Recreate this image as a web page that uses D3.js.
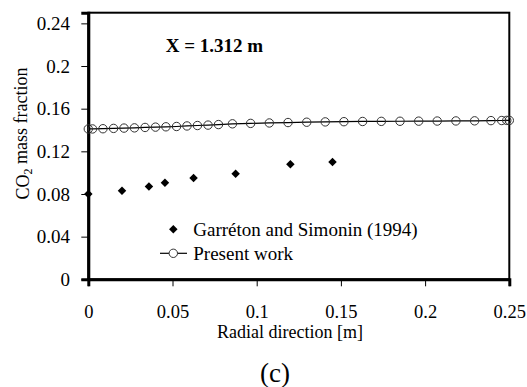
<!DOCTYPE html>
<html>
<head>
<meta charset="utf-8">
<script src="https://cdn.jsdelivr.net/npm/d3@7"></script>
<style>
  html, body { margin: 0; padding: 0; background: #fff; }
  svg { display: block; }
  svg text { font-family: "Liberation Serif", "Times New Roman", "DejaVu Serif", serif; fill: #000; }
</style>
</head>
<body>
<svg id="chart" width="527" height="387"></svg>
<script>
// ---- data ----
const expR = [0, 0.020, 0.036, 0.0455, 0.0625, 0.0875, 0.120, 0.145];
const expY = [0.080, 0.083, 0.087, 0.0905, 0.095, 0.099, 0.108, 0.110];

const simR = [0, 0.0025, 0.0087, 0.015, 0.0212, 0.0274, 0.0337, 0.0399, 0.0461, 0.0524,
              0.0586, 0.0648, 0.0711, 0.0773, 0.0856, 0.0964, 0.1075, 0.1186, 0.1297, 0.1407,
              0.1518, 0.1629, 0.174, 0.1851, 0.1962, 0.2072, 0.2183, 0.2294, 0.2391, 0.2455,
              0.2485, 0.25];
const simY = [0.141, 0.141, 0.1412, 0.1415, 0.1418, 0.142, 0.1424, 0.1427, 0.143, 0.1433,
              0.1438, 0.1442, 0.1446, 0.1451, 0.1458, 0.1462, 0.1466, 0.147, 0.1473, 0.1476,
              0.1478, 0.148, 0.1481, 0.1482, 0.1483, 0.1484, 0.1485, 0.1486, 0.1488, 0.1489,
              0.149, 0.149];

const xTicks = [0, 0.05, 0.1, 0.15, 0.2, 0.25];
const xTickLabels = ["0", "0.05", "0.1", "0.15", "0.2", "0.25"];
const yTicks = [0, 0.04, 0.08, 0.12, 0.16, 0.2, 0.24];
const yTickLabels = ["0", "0.04", "0.08", "0.12", "0.16", "0.2", "0.24"];

const seriesNames = ["Garréton and Simonin (1994)", "Present work"];
const annotation = "X = 1.312 m";
const xTitle = "Radial direction [m]";
const panelLabel = "(c)";

// ---- layout ----
const L = 88.3, T = 12.7, R = 509.3, B = 279.3;
const svg = d3.select("#chart");

const x = d3.scaleLinear().domain([0, 0.25]).range([L, R]);
const y = d3.scaleLinear().domain([0, 0.25]).range([B, T]);

// frame (top & right)
svg.append("rect")
  .attr("x", L).attr("y", T).attr("width", R - L).attr("height", B - T)
  .attr("fill", "none").attr("stroke", "#000").attr("stroke-width", 2);

// axes
const xAxis = d3.axisBottom(x).tickValues(xTicks)
  .tickFormat((d, i) => xTickLabels[i]).tickSizeOuter(0).tickSize(7);
const gx = svg.append("g").attr("transform", `translate(0,${B})`).call(xAxis);
gx.attr("font-family", null);
gx.select(".domain").attr("stroke", "#000").attr("stroke-width", 3);
gx.selectAll(".tick line").attr("stroke", "#000").attr("stroke-width", 1);
gx.selectAll(".tick text").attr("y", 32).attr("dy", "0.35em")
  .attr("font-size", 18.5);

const yAxis = d3.axisLeft(y).tickValues(yTicks)
  .tickFormat((d, i) => yTickLabels[i]).tickSizeOuter(0).tickSize(7).tickPadding(11.3);
const gy = svg.append("g").attr("transform", `translate(${L},0)`).call(yAxis);
gy.attr("font-family", null);
gy.select(".domain").attr("stroke", "#000").attr("stroke-width", 3);
gy.selectAll(".tick line").attr("stroke", "#000").attr("stroke-width", 1);
gy.selectAll(".tick text").attr("font-size", 19);

// simulation line
const sim = simR.map((r, i) => [r, simY[i]]);
svg.append("path")
  .datum(sim)
  .attr("fill", "none").attr("stroke", "#000").attr("stroke-width", 1.2)
  .attr("d", d3.line().x(d => x(d[0])).y(d => y(d[1])));
svg.append("g").selectAll("circle").data(sim).join("circle")
  .attr("cx", d => x(d[0])).attr("cy", d => y(d[1])).attr("r", 4.2)
  .attr("fill", "none").attr("stroke", "#333").attr("stroke-width", 1);

// experimental diamonds
const exp = expR.map((r, i) => [r, expY[i]]);
const diamond = d3.symbol().type(d3.symbolDiamond2).size(46);
svg.append("g").selectAll("path").data(exp).join("path")
  .attr("transform", d => `translate(${x(d[0])},${y(d[1])})`)
  .attr("d", diamond).attr("fill", "#000");

// annotation
svg.append("text").attr("x", 165.7).attr("y", 45).attr("dy", "0.35em")
  .attr("font-size", 19).attr("font-weight", "bold").text(annotation);

// legend
const lg = svg.append("g");
lg.append("path").attr("transform", "translate(173.3,229.3)").attr("d", diamond).attr("fill", "#000");
lg.append("text").attr("x", 193.3).attr("y", 229.3).attr("dy", "0.35em").attr("font-size", 19).text(seriesNames[0]);
lg.append("line").attr("x1", 160).attr("x2", 187).attr("y1", 253.3).attr("y2", 253.3)
  .attr("stroke", "#000").attr("stroke-width", 1.2);
lg.append("circle").attr("cx", 173.3).attr("cy", 253.3).attr("r", 4.2)
  .attr("fill", "#fff").attr("stroke", "#333").attr("stroke-width", 1);
lg.append("text").attr("x", 193.3).attr("y", 253.3).attr("dy", "0.35em").attr("font-size", 19).text(seriesNames[1]);

// axis titles
svg.append("text").attr("x", 290).attr("y", 331.5).attr("dy", "0.35em")
  .attr("text-anchor", "middle").attr("font-size", 18).text(xTitle);

const yt = svg.append("text")
  .attr("transform", "translate(22.5,133.5) rotate(-90)")
  .attr("text-anchor", "middle").attr("dy", "0.35em").attr("font-size", 18);
yt.append("tspan").text("CO");
yt.append("tspan").attr("font-size", 12).attr("dy", "0.3em").text("2");
yt.append("tspan").attr("dy", "-0.3em").text(" mass fraction");

// panel label
svg.append("text").attr("x", 275).attr("y", 373).attr("dy", "0.35em")
  .attr("text-anchor", "middle").attr("font-size", 27).text(panelLabel);
</script>
</body>
</html>
